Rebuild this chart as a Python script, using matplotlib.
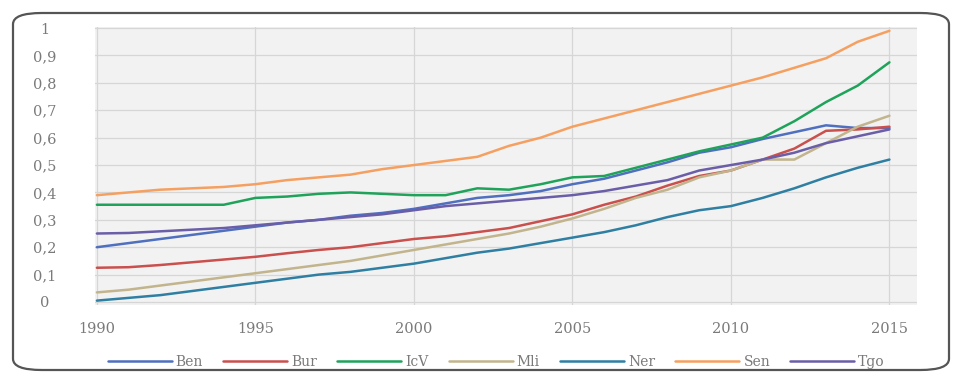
import matplotlib
matplotlib.use("Agg")
import matplotlib.pyplot as plt
from matplotlib.patches import FancyBboxPatch
from matplotlib.ticker import FuncFormatter

years = list(range(1990, 2016))

Ben = [0.200, 0.215, 0.230, 0.245, 0.260, 0.275, 0.290, 0.300, 0.315, 0.325,
       0.340, 0.360, 0.380, 0.390, 0.405, 0.430, 0.450, 0.480, 0.510, 0.545,
       0.565, 0.595, 0.620, 0.645, 0.635, 0.635]
Bur = [0.125, 0.127, 0.135, 0.145, 0.155, 0.165, 0.178, 0.190, 0.200, 0.215,
       0.230, 0.240, 0.255, 0.270, 0.295, 0.320, 0.355, 0.385, 0.425, 0.460,
       0.480, 0.520, 0.560, 0.625, 0.630, 0.640]
IcV = [0.355, 0.355, 0.355, 0.355, 0.355, 0.380, 0.385, 0.395, 0.400, 0.395,
       0.390, 0.390, 0.415, 0.410, 0.430, 0.455, 0.460, 0.490, 0.520, 0.550,
       0.575, 0.600, 0.660, 0.730, 0.790, 0.875]
Mli = [0.035, 0.045, 0.060, 0.075, 0.090, 0.105, 0.120, 0.135, 0.150, 0.170,
       0.190, 0.210, 0.230, 0.250, 0.275, 0.305, 0.340, 0.380, 0.410, 0.455,
       0.480, 0.520, 0.520, 0.580, 0.640, 0.680]
Ner = [0.005, 0.015, 0.025, 0.040, 0.055, 0.070, 0.085, 0.100, 0.110, 0.125,
       0.140, 0.160, 0.180, 0.195, 0.215, 0.235, 0.255, 0.280, 0.310, 0.335,
       0.350, 0.380, 0.415, 0.455, 0.490, 0.520]
Sen = [0.390, 0.400, 0.410, 0.415, 0.420, 0.430, 0.445, 0.455, 0.465, 0.485,
       0.500, 0.515, 0.530, 0.570, 0.600, 0.640, 0.670, 0.700, 0.730, 0.760,
       0.790, 0.820, 0.855, 0.890, 0.950, 0.990]
Tgo = [0.250, 0.252, 0.258, 0.264, 0.270, 0.280, 0.290, 0.300, 0.310, 0.320,
       0.335, 0.350, 0.360, 0.370, 0.380, 0.390, 0.405, 0.425, 0.445, 0.480,
       0.500, 0.520, 0.545, 0.580, 0.605, 0.630]

series = [("Ben", Ben, "#4f6fbf"), ("Bur", Bur, "#c9504d"), ("IcV", IcV, "#1fa35a"),
          ("Mli", Mli, "#c2b48c"), ("Ner", Ner, "#2f7fa3"), ("Sen", Sen, "#f5a060"),
          ("Tgo", Tgo, "#6b5ea8")]

xticks = [1990, 1995, 2000, 2005, 2010, 2015]
yticks = [0, 0.1, 0.2, 0.3, 0.4, 0.5, 0.6, 0.7, 0.8, 0.9, 1.0]

fig = plt.figure(figsize=(9.6, 3.78), dpi=100)
fig.patch.set_facecolor("white")

frame = FancyBboxPatch((13 / 960, 8 / 378), 936 / 960, 357 / 378,
                       boxstyle="round,pad=0,rounding_size=0.03",
                       transform=fig.transFigure, facecolor="none",
                       edgecolor="#555555", linewidth=1.6, zorder=5,
                       mutation_aspect=378 / 960 * 2.5)
fig.patches.append(frame)

ax = fig.add_axes([95 / 960, 1 - 305 / 378, (917 - 95) / 960, (305 - 27) / 378])
ax.set_facecolor("#f2f2f2")
for name, vals, col in series:
    ax.plot(years, vals, color=col, lw=1.8, label=name, solid_capstyle="round")

ax.set_xlim(1989.94, 2015.87)
ax.set_ylim(-0.011, 1.004)
ax.set_xticks(xticks)
ax.set_yticks(yticks)
ax.yaxis.set_major_formatter(FuncFormatter(lambda v, p: "0" if v == 0 else ("1" if abs(v - 1) < 1e-9 else f"{v:.1f}".replace(".", ","))))
ax.grid(True, color="#d6d6d6", lw=0.9)
ax.set_axisbelow(True)
for s in ax.spines.values():
    s.set_visible(False)
ax.tick_params(length=0, colors="#7a7a7a", labelsize=10.5)
for lab in ax.get_xticklabels() + ax.get_yticklabels():
    lab.set_family("DejaVu Serif")
ax.tick_params(axis="x", pad=12)
ax.tick_params(axis="y", pad=36)
for lab in ax.get_yticklabels():
    lab.set_horizontalalignment("center")

leg = fig.legend(loc="center", bbox_to_anchor=(0.517, 1 - 362 / 378), ncol=7,
                 frameon=False, handlelength=4.6, handletextpad=0.3,
                 columnspacing=1.45,
                 prop={"family": "DejaVu Serif", "size": 10})
for t in leg.get_texts():
    t.set_color("#7a7a7a")

fig.savefig("out.png", dpi=100, facecolor="white")
